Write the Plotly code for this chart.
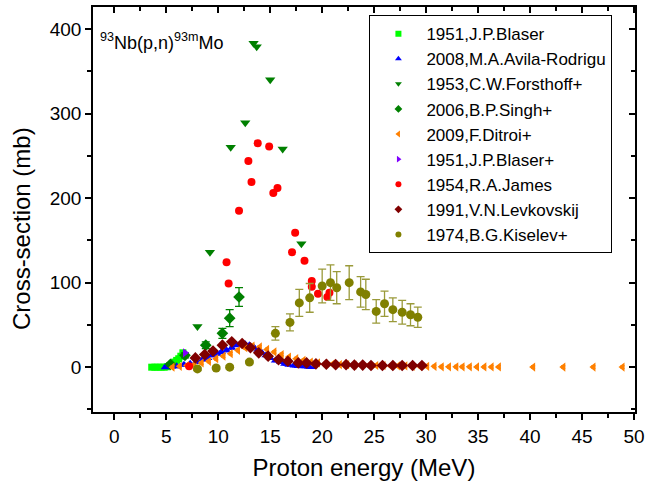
import plotly.graph_objects as go

# ---------------- data ----------------
blaser_x = [3.6, 3.9, 4.2, 4.5, 4.8, 5.1, 5.4, 5.6, 5.8, 6.0, 6.2, 6.4, 6.6]
blaser_y = [0, 0, 0, 0, 0, 0.5, 2, 4, 6, 8, 10, 13, 17]

avila_x = [4.9, 5.5, 6.0, 6.7, 7.3, 7.9, 8.5, 9.0, 9.4, 9.9, 10.3, 10.8, 11.3, 11.8,
           12.2, 12.6, 13.0, 13.4, 13.8, 14.2, 14.6, 15.0, 15.5, 16.0, 16.4, 16.8,
           17.3, 17.7, 18.2, 18.7, 19.0]
avila_y = [0, 0.5, 1, 3, 4, 6, 9, 11, 14, 16, 18, 20, 23, 26, 27, 27, 26, 24, 21, 17,
           14, 11, 8, 6, 4, 3, 2, 1.5, 1, 0.5, 0.3]

forst_x = [8.0, 9.2, 11.2, 12.6, 13.4, 13.7, 15.0, 16.2, 18.0]
forst_y = [48, 136, 260, 289, 383, 379, 340, 258, 146]

singh_x = [5.4, 6.8, 8.8, 10.4, 11.1, 12.0]
singh_y = [3.5, 14, 26, 40, 58, 83]
singh_e = [2, 3, 4, 6, 10, 11]

ditroi_x = [5.6, 6.3, 7.0, 7.7, 8.4, 9.1, 9.8, 10.5, 11.2, 11.9, 12.6, 13.3, 14.0,
            14.7, 15.4, 16.1, 16.8, 17.5, 18.2, 18.9, 19.6, 20.3, 21.0, 21.7, 22.4,
            23.1, 23.8, 24.5, 25.2, 25.9, 26.6, 27.3, 28.0, 28.7, 29.4, 30.1, 30.8,
            31.5, 32.2, 32.9, 33.5, 34.2, 34.9, 35.6, 36.3, 37.0, 40.3, 43.2, 46.1, 48.9]
ditroi_y = [0, 1, 2, 3, 5, 7, 10, 13, 16, 20, 23, 25, 24, 21, 18, 15, 12, 10, 8, 6,
            5, 4, 3.5, 3, 3, 2.5, 2.5, 2, 2, 2, 1.5, 1.5, 1.5, 1, 1, 1, 1, 0.5, 0.5,
            0.5, 0.5, 0.5, 0.3, 0.3, 0.3, 0.3, 0.2, 0.2, 0.2, 0.2]

blaserp_x = [6.8]
blaserp_y = [17]

james_x = [7.2, 10.8, 11.0, 12.0, 12.9, 13.2, 13.8, 14.9, 15.3, 15.7, 17.1, 17.4,
           18.3, 19.0, 19.0, 19.6, 20.5, 20.7]
james_y = [1, 124, 99, 185, 244, 219, 265, 261, 206, 212, 136, 159, 126, 102, 95,
           87, 83, 88]

levk_x = [7.8, 8.7, 9.5, 10.4, 11.3, 12.3, 13.1, 13.9, 14.8, 15.8, 16.7, 17.7, 18.5,
          19.4, 20.4, 21.3, 22.3, 23.1, 23.9, 24.7, 25.8, 26.8, 27.7, 28.7, 29.6]
levk_y = [11, 15, 19, 26, 30, 28, 23, 17, 13, 9, 7, 5, 5, 4, 3.5, 3, 3, 2.5, 2.5, 2,
          2, 2, 2, 2, 2]

kis_x = [8.0, 9.8, 11.1, 13.0, 15.5, 16.9, 17.8, 18.8, 20.0, 20.8, 21.4, 22.6, 23.7,
         24.2, 25.2, 26.0, 26.8, 27.7, 28.5, 29.2]
kis_y = [-2, -1, 0, 6, 40, 53, 76, 82, 96, 100, 94, 100, 89, 86, 66, 75, 68, 65, 62, 59]
kis_e = [2, 2, 2, 2, 8, 10, 16, 17, 20, 21, 19, 20, 18, 18, 14, 15, 14, 14, 13, 12]

names = ["1951,J.P.Blaser", "2008,M.A.Avila-Rodrigu", "1953,C.W.Forsthoff+",
         "2006,B.P.Singh+", "2009,F.Ditroi+", "1951,J.P.Blaser+", "1954,R.A.James",
         "1991,V.N.Levkovskij", "1974,B.G.Kiselev+"]

# ---------------- figure ----------------
FONT = "Liberation Sans, Arial, sans-serif"
fig = go.Figure()

legend_entries = []


def add(x, y, name, symbol, color, size=8, err=None, errw=4, errcolor=None):
    kw = {}
    if err is not None:
        kw["error_y"] = dict(type="data", array=err, visible=True,
                             color=errcolor or color, thickness=1.3, width=errw)
    fig.add_trace(go.Scatter(x=x, y=y, mode="markers", name=name, legendgroup=name,
                             showlegend=False,
                             marker=dict(symbol=symbol, color=color, size=size,
                                         line=dict(width=0)),
                             **kw))
    legend_entries.append((name, symbol, color))


add(blaser_x, blaser_y, names[0], "square", "#00FF00", size=7)
add(avila_x, avila_y, names[1], "triangle-up", "#0000FF", size=8,
    err=[1.5] * len(avila_y), errw=2)
add(forst_x, forst_y, names[2], "triangle-down", "#008000", size=9)
add(singh_x, singh_y, names[3], "diamond", "#008000", size=9, err=singh_e)
add(ditroi_x, ditroi_y, names[4], "triangle-left", "#FF8000", size=8,
    err=[1.5] * len(ditroi_y), errw=2)
add(blaserp_x, blaserp_y, names[5], "triangle-right", "#8000FF", size=8)
add(james_x, james_y, names[6], "circle", "#FF0000", size=8)
add(levk_x, levk_y, names[7], "diamond", "#800000", size=9,
    err=[2] * len(levk_y), errw=2)
add(kis_x, kis_y, names[8], "circle", "#808000", size=9, err=kis_e,
    errcolor="#9A9A3A")

# legend entries with the small symbols of the reference legend
for name, symbol, color in legend_entries:
    fig.add_trace(go.Scatter(x=[None], y=[None], mode="markers", name=name,
                             legendgroup=name, showlegend=True, hoverinfo="skip",
                             marker=dict(symbol=symbol, color=color, size=6,
                                         line=dict(width=0))))

XR = [-2.05, 50.1]
YR = [-53, 426]

axis_common = dict(showgrid=False, zeroline=False, showline=True, linecolor="black",
                   linewidth=1.5, tickcolor="black", tickwidth=1.5)

fig.update_layout(
    width=652, height=489,
    margin=dict(l=93, r=12, t=7, b=77),
    paper_bgcolor="white", plot_bgcolor="white",
    font=dict(family=FONT, color="black"),
    xaxis=dict(range=XR, dtick=5, tick0=0, ticks="outside", ticklen=6,
               tickfont=dict(size=19),
               minor=dict(ticks="outside", ticklen=4, dtick=2.5, tick0=0,
                          tickcolor="black", tickwidth=1.5),
               title=dict(text="Proton energy (MeV)", font=dict(size=24), standoff=14),
               **axis_common),
    yaxis=dict(range=YR, dtick=100, tick0=0, ticks="outside", ticklen=6,
               tickfont=dict(size=19),
               minor=dict(ticks="outside", ticklen=4, dtick=50, tick0=0,
                          tickcolor="black", tickwidth=1.5),
               **axis_common),
    xaxis2=dict(range=XR, overlaying="x", side="top", anchor="y", dtick=5, tick0=0,
                ticks="inside", ticklen=6, showticklabels=False,
                minor=dict(ticks="inside", ticklen=4, dtick=2.5, tick0=0,
                           tickcolor="black", tickwidth=1.5),
                **axis_common),
    yaxis2=dict(range=YR, overlaying="y", side="right", anchor="x", dtick=100, tick0=0,
                ticks="inside", ticklen=6, showticklabels=False,
                minor=dict(ticks="inside", ticklen=4, dtick=50, tick0=0,
                           tickcolor="black", tickwidth=1.5),
                **axis_common),
    legend=dict(x=0.51, y=0.98, xanchor="left", yanchor="top",
                bordercolor="black", borderwidth=1, bgcolor="white",
                font=dict(size=17, family=FONT), itemwidth=46,
                tracegroupgap=0, itemclick=False, itemdoubleclick=False),
    showlegend=True,
)

# helper trace so the mirror axes are drawn
fig.add_trace(go.Scatter(x=[None], y=[None], xaxis="x2", yaxis="y2",
                         showlegend=False, hoverinfo="skip"))

fig.add_annotation(x=-1.6, y=385, xref="x", yref="y", xanchor="left", yanchor="middle",
                   text="<sup>93</sup>Nb(p,n)<sup>93m</sup>Mo", showarrow=False,
                   font=dict(size=18, family=FONT))

fig.add_annotation(x=-0.133, y=0.454, xref="paper", yref="paper", textangle=-90,
                   xanchor="center", yanchor="middle", text="Cross-section (mb)",
                   showarrow=False, font=dict(size=24, family=FONT))

fig.write_html("out.html")
